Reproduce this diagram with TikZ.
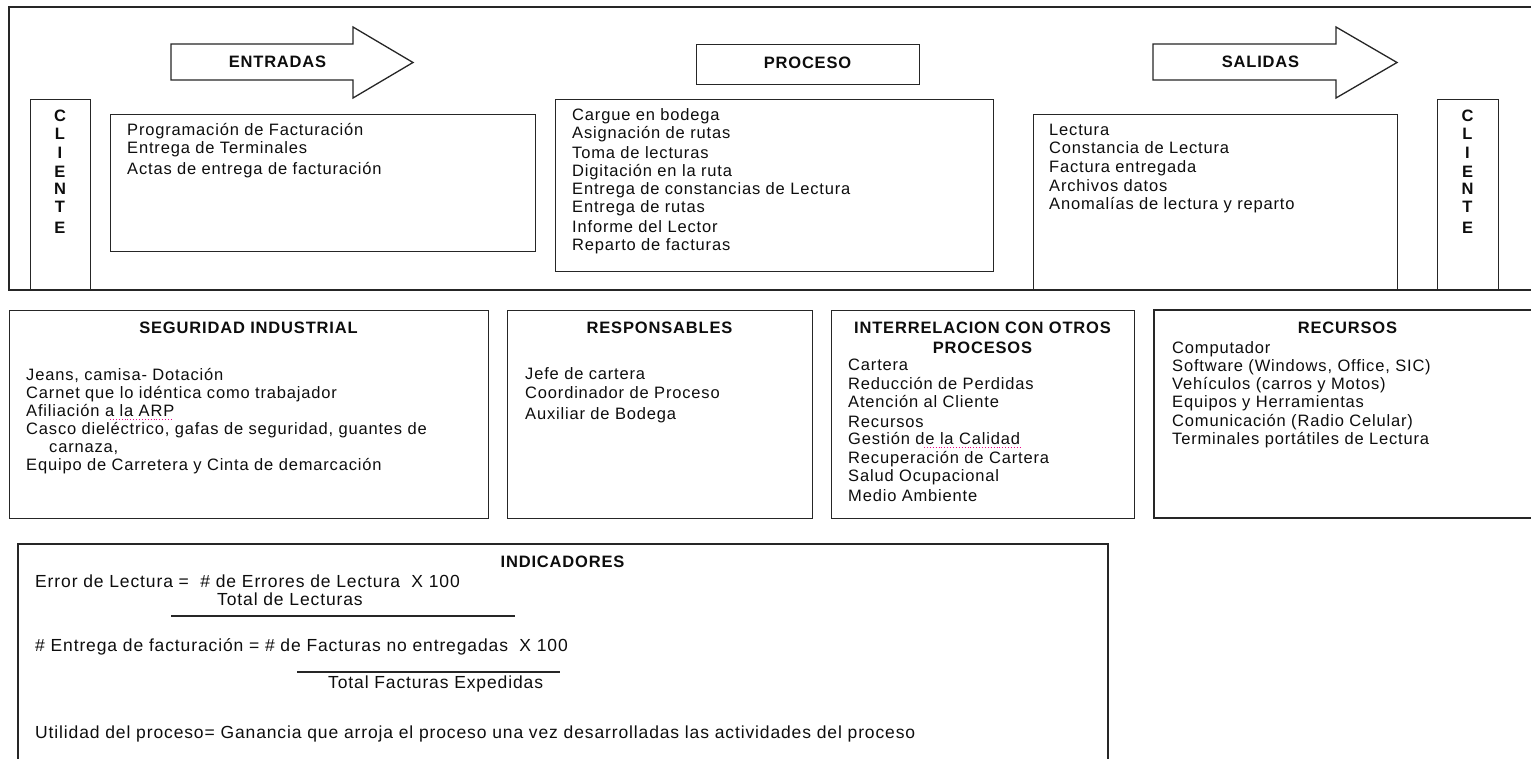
\documentclass[tikz,border=0pt]{standalone}
\usepackage{fontspec}
\setmainfont[LetterSpace=5]{Liberation Sans}
\newcommand\fsz{\fontsize{16.5}{18.5}\selectfont}
\newcommand\fszi{\fontsize{17.5}{19.5}\selectfont}
\begin{document}
\begin{tikzpicture}[x=1pt,y=-1pt,
  ln/.style={draw=black!85, line width=1.3pt},
  box/.style={ln, rectangle, inner sep=0pt, anchor=north west},
  txt/.style={anchor=base west, inner sep=0pt, text=black!95, font=\fsz},
  itxt/.style={txt, font=\fszi},
  ttl/.style={anchor=base, inner sep=0pt, text=black!95, font=\fsz\bfseries},
  spell/.style={draw=magenta, line width=0.9pt, dotted}
]
\useasboundingbox (0,0) rectangle (1531,759);

% ---------- top frame ----------
\draw[ln] (1531,7) -- (9,7) -- (9,290) -- (1531,290);

% arrows
\draw[ln, fill=white] (171,44) -- (353,44) -- (353,27) -- (413,62.5) -- (353,98) -- (353,80) -- (171,80) -- cycle;
\node[ttl] (entradas) at (277.5,68) {ENTRADAS};
\draw[ln, fill=white] (1153,44) -- (1336,44) -- (1336,27) -- (1397,62.5) -- (1336,98) -- (1336,80) -- (1153,80) -- cycle;
\node[ttl] (salidas) at (1260.5,68) {SALIDAS};

\node[box, minimum width=223, minimum height=40] (proct) at (696,44) {};
\node[ttl] (proceso) at (807.5,69) {PROCESO};

% client columns
\node[box, minimum width=60, minimum height=191] (clientL) at (30,99) {};
\node[box, minimum width=61, minimum height=191] (clientR) at (1437,99) {};
\foreach \l/\y [count=\i] in {C/122,L/140,I/159,E/178,N/195,T/213,E/234}{
  \node[ttl] (cl\i) at (60,\y) {\l};
  \node[ttl] (cr\i) at (1467.5,\y) {\l};
}

% entradas box
\node[box, minimum width=425, minimum height=137] (entbox) at (110,114) {};
\foreach \y/\t [count=\i] in {136/{Programación de Facturación},154/{Entrega de Terminales},175/{Actas de entrega de facturación}}{
  \node[txt] (ent\i) at (127,\y) {\t};
}

% proceso box
\node[box, minimum width=438, minimum height=172] (procbox) at (555,99) {};
\foreach \y/\t [count=\i] in {121/{Cargue en bodega},139/{Asignación de rutas},159/{Toma de lecturas},177/{Digitación en la ruta},195/{Entrega de constancias de Lectura},213/{Entrega de rutas},233/{Informe del Lector},251/{Reparto de facturas}}{
  \node[txt] (proc\i) at (572,\y) {\t};
}

% salidas box
\node[box, minimum width=364, minimum height=176] (salbox) at (1033,114) {};
\foreach \y/\t [count=\i] in {136/{Lectura},154/{Constancia de Lectura},173/{Factura entregada},192/{Archivos datos},210/{Anomalías de lectura y reparto}}{
  \node[txt] (sal\i) at (1049,\y) {\t};
}

% ---------- middle row ----------
\node[box, minimum width=479, minimum height=208] (seg) at (9,310) {};
\node[ttl] (segt) at (248.5,333) {SEGURIDAD INDUSTRIAL};
\foreach \y/\t [count=\i] in {380/{Jeans, camisa- Dotación},398/{Carnet que lo idéntica como trabajador},416/{Afiliación a la ARP},434/{Casco dieléctrico, gafas de seguridad, guantes de},470/{Equipo de Carretera y Cinta de demarcación}}{
  \node[txt] (seg\i) at (26,\y) {\t};
}
\node[txt] (seg6) at (49,452) {carnaza,};
\draw[spell] (110,419) -- (172,419);

\node[box, minimum width=305, minimum height=208] (resp) at (507,310) {};
\node[ttl] (respt) at (659.5,333) {RESPONSABLES};
\foreach \y/\t [count=\i] in {379/{Jefe de cartera},398/{Coordinador de Proceso},419/{Auxiliar de Bodega}}{
  \node[txt] (resp\i) at (525,\y) {\t};
}

\node[box, minimum width=303, minimum height=208] (inter) at (831,310) {};
\node[ttl] (intert1) at (982.5,333) {INTERRELACION CON OTROS};
\node[ttl] (intert2) at (982.5,353) {PROCESOS};
\foreach \y/\t [count=\i] in {370/{Cartera},389/{Reducción de Perdidas},407/{Atención al Cliente},427/{Recursos},444/{Gestión de la Calidad},463/{Recuperación de Cartera},481/{Salud Ocupacional},501/{Medio Ambiente}}{
  \node[txt] (inter\i) at (848,\y) {\t};
}
\draw[spell] (924,447) -- (1020,447);

\draw[ln] (1531,310) -- (1154,310) -- (1154,518) -- (1531,518);
\node[ttl] (rect) at (1347.5,333) {RECURSOS};
\foreach \y/\t [count=\i] in {353/{Computador},371/{Software (Windows, Office, SIC)},389/{Vehículos (carros y Motos)},407/{Equipos y Herramientas},426/{Comunicación (Radio Celular)},444/{Terminales portátiles de Lectura}}{
  \node[txt] (rec\i) at (1172,\y) {\t};
}

% ---------- indicadores ----------
\draw[ln] (18,759) -- (18,544) -- (1108,544) -- (1108,759);
\node[ttl] (indt) at (562.5,567) {INDICADORES};
\node[itxt] (ind1) at (35,587) {Error de Lectura =\ \ \# de Errores de Lectura\ \ X 100};
\node[itxt] (ind1d) at (217,605) {Total de Lecturas};
\coordinate (f1a) at (171,616);
\coordinate (f1b) at (515,616);
\draw[ln] (f1a) -- (f1b);
\node[itxt] (ind2) at (35,651) {\# Entrega de facturación = \# de Facturas no entregadas\ \ X 100};
\coordinate (f2a) at (297,672);
\coordinate (f2b) at (560,672);
\draw[ln] (f2a) -- (f2b);
\node[itxt] (ind2d) at (328,688) {Total Facturas Expedidas};
\node[itxt] (ind3) at (35,738) {Utilidad del proceso= Ganancia que arroja el proceso una vez desarrolladas las actividades del proceso};
\end{tikzpicture}
\end{document}
